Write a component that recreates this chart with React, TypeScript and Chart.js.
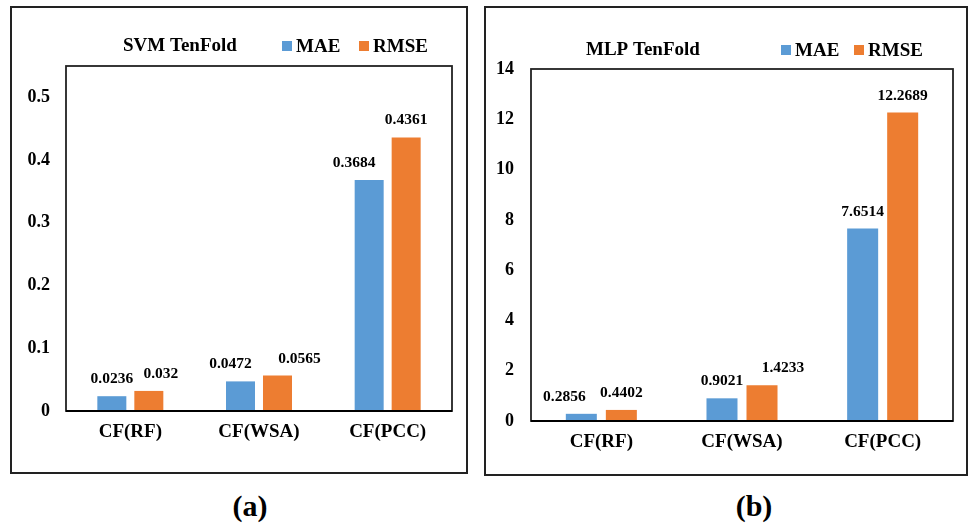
import React, { useEffect, useRef } from "react";
import { Chart, registerables } from "chart.js";

Chart.register(...registerables);

const categories = ["CF(RF)", "CF(WSA)", "CF(PCC)"];
const seriesNames = ["MAE", "RMSE"];
const svmMAE = [0.0236, 0.0472, 0.3684];
const svmRMSE = [0.032, 0.0565, 0.4361];
const mlpMAE = [0.2856, 0.9021, 7.6514];
const mlpRMSE = [0.4402, 1.4233, 12.2689];
const svmTitle = "SVM TenFold";
const mlpTitle = "MLP TenFold";

const BLUE = "#5B9BD5";
const ORANGE = "#ED7D31";
const FONT = "'Liberation Serif', 'Times New Roman', serif";

type PanelCfg = {
  left: number;
  top: number;
  width: number;
  height: number;
  title: string;
  mae: number[];
  rmse: number[];
  max: number;
  step: number;
  padTop: number;
  padRight: number;
  yWidth: number;
  xHeight: number;
  yPad: number;
  catPct: number;
  barPct: number;
  titleX: number;
  titleY: number;
  legendX: [number, number];
  labelDx: number[][];
};

const panelA: PanelCfg = {
  left: 10,
  top: 6,
  width: 458,
  height: 468,
  title: svmTitle,
  mae: svmMAE,
  rmse: svmRMSE,
  max: 0.55,
  step: 0.1,
  padTop: 60,
  padRight: 16,
  yWidth: 56,
  xHeight: 63,
  yPad: 16,
  catPct: 0.575,
  barPct: 0.784,
  titleX: 113,
  titleY: 40,
  legendX: [272, 349],
  labelDx: [
    [0, -10, -15],
    [12, 22, 0],
  ],
};

const panelB: PanelCfg = {
  left: 484,
  top: 6,
  width: 484,
  height: 470,
  title: mlpTitle,
  mae: mlpMAE,
  rmse: mlpRMSE,
  max: 14,
  step: 2,
  padTop: 63,
  padRight: 15,
  yWidth: 47,
  xHeight: 55,
  yPad: 17,
  catPct: 0.569,
  barPct: 0.775,
  titleX: 102,
  titleY: 44,
  legendX: [297, 370],
  labelDx: [
    [-17, 0, 0],
    [0, 21, 0],
  ],
};

function Panel({ cfg }: { cfg: PanelCfg }) {
  const ref = useRef<HTMLCanvasElement | null>(null);
  useEffect(() => {
    if (!ref.current) return;
    const decor = {
      id: "decor",
      afterDatasetsDraw(chart: any) {
        const ctx = chart.ctx;
        const a = chart.chartArea;
        ctx.save();
        // plot box
        ctx.strokeStyle = "#222";
        ctx.lineWidth = 1.8;
        ctx.strokeRect(a.left, a.top, a.right - a.left, a.bottom - a.top);
        ctx.strokeStyle = "#000";
        ctx.lineWidth = 2.2;
        ctx.beginPath();
        ctx.moveTo(a.left, a.bottom);
        ctx.lineTo(a.right, a.bottom);
        ctx.stroke();
        // data labels
        ctx.fillStyle = "#000";
        ctx.font = `bold 15.5px ${FONT}`;
        ctx.textAlign = "center";
        ctx.textBaseline = "middle";
        chart.data.datasets.forEach((ds: any, di: number) => {
          const meta = chart.getDatasetMeta(di);
          meta.data.forEach((bar: any, i: number) => {
            const dx = cfg.labelDx[di][i] || 0;
            ctx.fillText(String(ds.data[i]), bar.x + dx, bar.y - 17);
          });
        });
        // title
        ctx.textAlign = "left";
        ctx.font = `bold 19px ${FONT}`;
        ctx.fillText(cfg.title, cfg.titleX, cfg.titleY);
        // legend
        chart.data.datasets.forEach((ds: any, di: number) => {
          const x = cfg.legendX[di];
          ctx.fillStyle = ds.backgroundColor;
          ctx.fillRect(x, cfg.titleY - 5, 10, 10);
          ctx.fillStyle = "#000";
          ctx.fillText(ds.label, x + 14, cfg.titleY + 1);
        });
        ctx.restore();
      },
    };
    const chart = new Chart(ref.current, {
      type: "bar",
      data: {
        labels: categories,
        datasets: [
          {
            label: seriesNames[0],
            data: cfg.mae,
            backgroundColor: BLUE,
            categoryPercentage: cfg.catPct,
            barPercentage: cfg.barPct,
          },
          {
            label: seriesNames[1],
            data: cfg.rmse,
            backgroundColor: ORANGE,
            categoryPercentage: cfg.catPct,
            barPercentage: cfg.barPct,
          },
        ],
      },
      options: {
        animation: false,
        responsive: false,
        maintainAspectRatio: false,
        layout: { padding: { top: cfg.padTop, right: cfg.padRight, left: 0, bottom: 0 } },
        plugins: {
          legend: { display: false },
          title: { display: false },
          tooltip: { enabled: false },
        },
        scales: {
          x: {
            grid: { display: false, drawTicks: false },
            border: { display: false },
            ticks: {
              color: "#000",
              padding: 10,
              font: { family: FONT, size: 19, weight: "bold" },
            },
            afterFit(scale: any) {
              scale.height = cfg.xHeight;
            },
          },
          y: {
            min: 0,
            max: cfg.max,
            grid: { display: false, drawTicks: false },
            border: { display: false },
            ticks: {
              stepSize: cfg.step,
              color: "#000",
              padding: cfg.yPad,
              font: { family: FONT, size: 18, weight: "bold" },
              callback: (v: any) => String(Math.round(Number(v) * 100) / 100),
            },
            afterBuildTicks(scale: any) {
              scale.ticks = scale.ticks.filter((t: any) => {
                const r = t.value / cfg.step;
                return Math.abs(r - Math.round(r)) < 1e-6;
              });
            },
            afterFit(scale: any) {
              scale.width = cfg.yWidth;
            },
          },
        },
      },
      plugins: [decor],
    });
    return () => chart.destroy();
  }, [cfg]);
  return (
    <>
      <canvas
        ref={ref}
        width={cfg.width}
        height={cfg.height}
        style={{ position: "absolute", left: cfg.left, top: cfg.top, width: cfg.width, height: cfg.height }}
      />
      <div
        style={{
          position: "absolute",
          left: cfg.left,
          top: cfg.top,
          width: cfg.width,
          height: cfg.height,
          border: "2px solid #222",
          boxSizing: "border-box",
          pointerEvents: "none",
        }}
      />
    </>
  );
}

export default function App() {
  const cap: React.CSSProperties = {
    position: "absolute",
    top: 491,
    width: 100,
    textAlign: "center",
    font: `bold 30px ${FONT}`,
    lineHeight: "30px",
    color: "#000",
  };
  return (
    <div style={{ position: "absolute", left: 0, top: 0, width: 969, height: 523, background: "#fff" }}>
      <Panel cfg={panelA} />
      <Panel cfg={panelB} />
      <div style={{ ...cap, left: 200 }}>(a)</div>
      <div style={{ ...cap, left: 704 }}>(b)</div>
    </div>
  );
}
